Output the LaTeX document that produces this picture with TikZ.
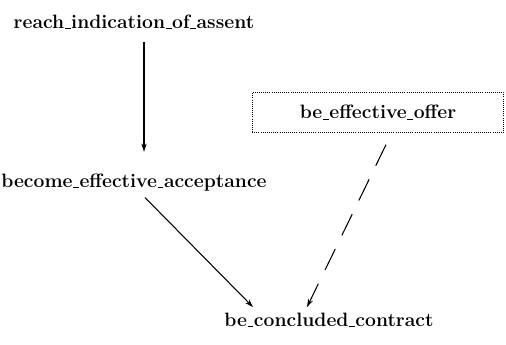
\documentclass[tikz,border=0pt]{standalone}
\usetikzlibrary{arrows.meta}

% short low dash joining the words
\newcommand{\lowbar}{\kern0.03em\rule[-0.5pt]{0.3em}{0.9pt}\kern0.03em}

\begin{document}
\begin{tikzpicture}[
    x=0.03cm, y=-0.03cm,
    event/.style={font=\fontsize{16.5}{19}\selectfont\bfseries, inner sep=2pt},
    framed/.style={event, draw, densely dotted, line width=0.8pt, minimum width=7.55cm, minimum height=1.2cm},
    arrow/.style={-{Stealth[length=7pt,width=4.5pt]}, line width=0.9pt},
    dasharrow/.style={arrow, dash pattern=on 20pt off 13pt}
]
\useasboundingbox (0,0) rectangle (506,345);

\node[event] (reach) at (134,22) {reach\lowbar indication\lowbar of\lowbar assent};
\node[event] (become) at (134,183) {become\lowbar effective\lowbar acceptance};
\node[framed] (offer) at (378,112.5) {be\lowbar effective\lowbar offer};
\node[event] (concluded) at (329,320) {be\lowbar concluded\lowbar contract};

\draw[arrow] ([xshift=0.3cm,yshift=-0.3cm]reach.south) -- ([xshift=0.3cm,yshift=0.6cm]become.north);
\draw[arrow] ([xshift=0.33cm,yshift=-0.1cm]become.south) -- ([xshift=-2.28cm,yshift=0.1cm]concluded.north);
\draw[dasharrow] ([xshift=0.24cm,yshift=-0.35cm]offer.south) -- ([xshift=-0.66cm,yshift=0.1cm]concluded.north);

\end{tikzpicture}
\end{document}
